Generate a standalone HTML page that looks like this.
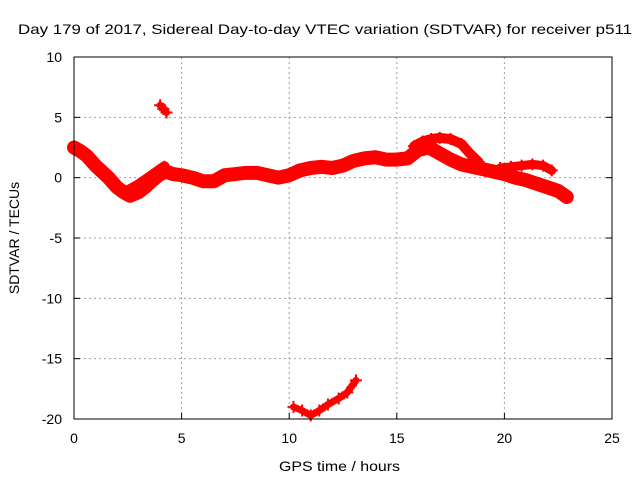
<!DOCTYPE html>
<html><head><meta charset="utf-8"><style>
body{margin:0;background:#fff}
svg{display:block;font-family:"Liberation Sans",sans-serif;font-size:14px}
</style></head><body>
<svg id="chart" width="640" height="480">
<text x="18" y="34" textLength="614" lengthAdjust="spacingAndGlyphs">Day 179 of 2017, Sidereal Day-to-day VTEC variation (SDTVAR) for receiver p511</text>
<g id="grid"></g>
<g id="data"></g>
<rect x="74" y="57" width="538" height="362" fill="none" stroke="#000" stroke-width="1"/>
<g id="ticks"></g>
<text x="279" y="471" textLength="121" lengthAdjust="spacingAndGlyphs">GPS time / hours</text>
<text transform="translate(19,238) rotate(-90)" text-anchor="middle">SDTVAR / TECUs</text>
</svg>
<script>
const xTicks=[0,5,10,15,20,25];
const yTicks=[10,5,0,-5,-10,-15,-20];
const mainT=[0,0.3,0.6,1,1.3,1.6,2,2.3,2.6,3,3.3,3.6,4,4.3,4.6,5,5.5,6,6.5,7,7.5,8,8.5,9,9.5,10,10.5,11,11.5,12,12.5,13,13.5,14,14.5,15,15.5,16,16.5,17,17.5,18,18.5,19,19.5,20,20.5,21,21.5,22,22.5,22.9];
const mainV=[2.5,2.2,1.8,1,0.5,0,-0.8,-1.2,-1.5,-1.2,-0.8,-0.3,0.3,0.5,0.3,0.2,0,-0.3,-0.3,0.2,0.3,0.4,0.4,0.2,0,0.2,0.6,0.8,0.9,0.8,1.0,1.4,1.6,1.7,1.5,1.5,1.6,2.3,2.5,2.0,1.5,1.1,0.9,0.7,0.5,0.3,0,-0.2,-0.5,-0.8,-1.1,-1.6];
const armT=[2.6,3.0,3.4,3.8,4.2];
const armV=[-1.0,-0.6,-0.1,0.4,0.9];
const upperT=[15.8,16.2,16.6,17.0,17.5,18.0,18.4,18.8];
const upperV=[2.6,3.0,3.2,3.3,3.2,2.8,2.0,1.3];
const eveT=[19.8,20.3,20.8,21.3,21.8,22.2];
const eveV=[0.8,0.9,1.0,1.1,1.0,0.6];
const spikeT=[4.0,4.15,4.3];
const spikeV=[6.0,5.7,5.4];
const lowT=[10.2,10.6,11.0,11.4,11.8,12.3,12.7,13.1];
const lowV=[-19.0,-19.3,-19.7,-19.3,-18.8,-18.3,-17.8,-16.8];
const X=t=>74+t*538/25, Y=v=>57+(10-v)*362/30;
const NS="http://www.w3.org/2000/svg";
const grid=document.getElementById('grid'),ticks=document.getElementById('ticks'),data=document.getElementById('data');
function mk(tag,at,par){const e=document.createElementNS(NS,tag);for(const k in at)e.setAttribute(k,at[k]);par.appendChild(e);return e;}
xTicks.forEach(t=>{
 if(t>0&&t<25){const g=mk('line',{x1:X(t),x2:X(t),y1:57,y2:419,stroke:'#a0a0a0','stroke-dasharray':'2,3'},grid);
 
 }
 const l=mk('text',{x:X(t),y:443,'text-anchor':'middle'},ticks);l.textContent=t;
 
 
 mk('line',{x1:X(t),x2:X(t),y1:419,y2:413,stroke:'#000'},ticks);
});
yTicks.forEach(v=>{
 if(v>-20&&v<10){const g=mk('line',{x1:74,x2:612,y1:Y(v),y2:Y(v),stroke:'#a0a0a0','stroke-dasharray':'2,3'},grid);
 
 }
 const l=mk('text',{x:62,y:Y(v)+5,'text-anchor':'end'},ticks);l.textContent=v;
 
 
 mk('line',{x1:74,x2:80,y1:Y(v),y2:Y(v),stroke:'#000'},ticks);
 mk('line',{x1:612,x2:606,y1:Y(v),y2:Y(v),stroke:'#000'},ticks);
});
function series(ts,vs,w,name){
 const pts=ts.map((t,i)=>X(t)+','+Y(vs[i])).join(' ');
 const p=mk('polyline',{points:pts,fill:'none',stroke:'#ff0000','stroke-width':w,'stroke-linejoin':'round','stroke-linecap':'round'},data);
 
 
 ts.forEach((t,i)=>{
  const c=mk('path',{d:`M${X(t)-6},${Y(vs[i])}h12M${X(t)},${Y(vs[i])-6}v12`,stroke:'#ff0000','stroke-width':2},data);
  
  
 });
}
series(mainT,mainV,14,'main-track');
series(armT,armV,11,'arm-track');
series(upperT,upperV,10,'upper-track');
series(eveT,eveV,9,'evening-track');
series(spikeT,spikeV,7,'spike-track');
series(lowT,lowV,7,'low-track');
</script>
</body></html>
